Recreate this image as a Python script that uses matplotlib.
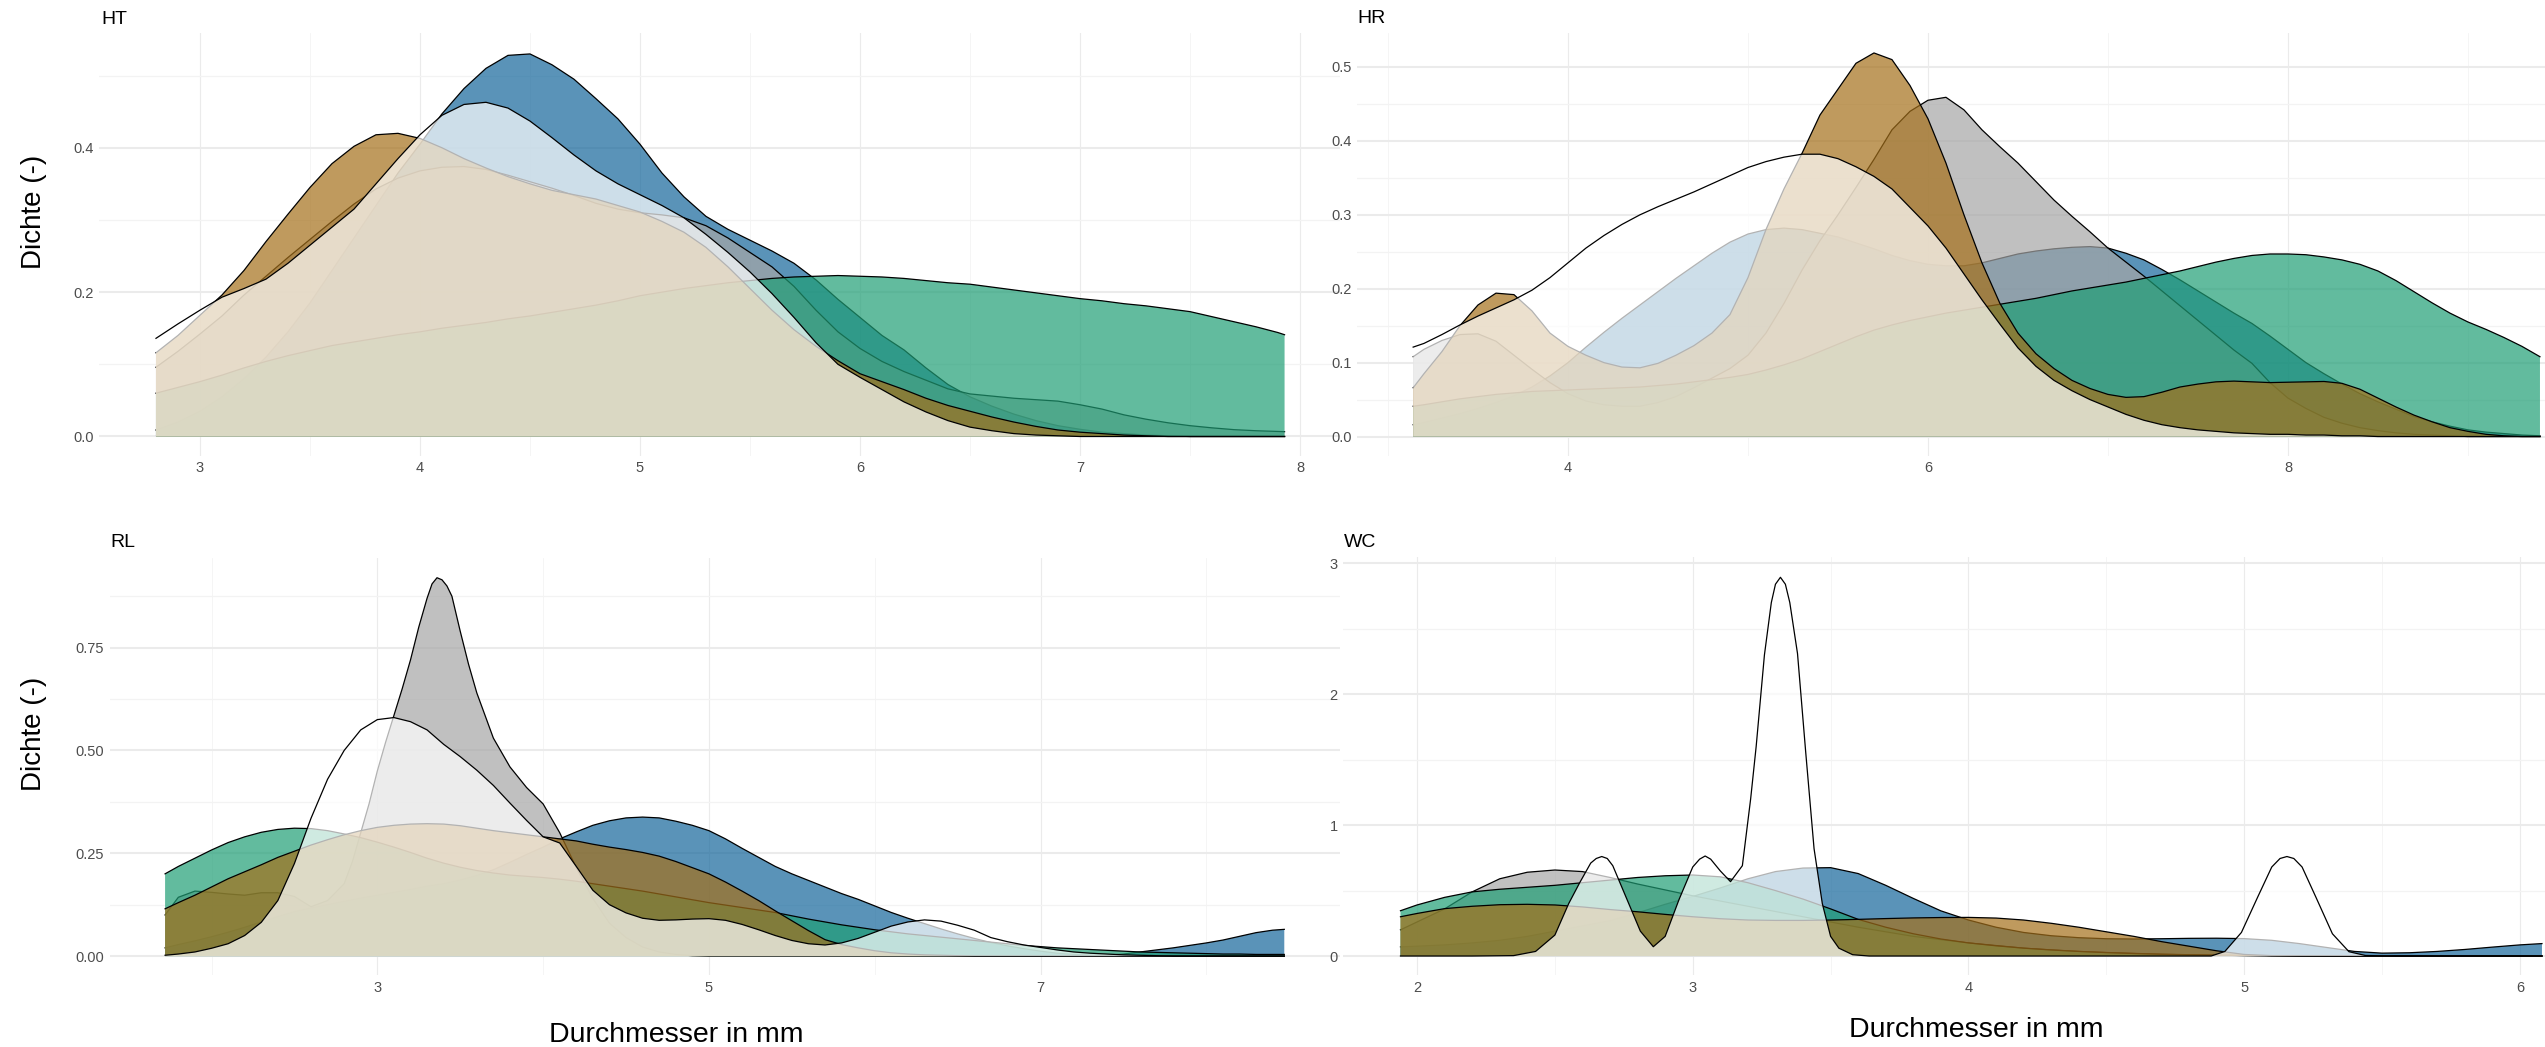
import matplotlib
matplotlib.use("Agg")
import matplotlib.pyplot as plt

plt.rcParams['font.family'] = ['Liberation Sans', 'DejaVu Sans']

# Dichtekurven der Durchmesser, je Standort eine Tafel, fuenf Gruppen je Tafel
# Reihenfolge der Gruppen = Zeichenreihenfolge (spaetere liegen oben)
FARBEN = ['#14669b', '#a6a6a6', '#1f9e75', '#a5701a', '#ffffff']

# ---------------- HT ----------------
HT_X = [2.8, 2.9, 3.0, 3.1, 3.2, 3.3, 3.4, 3.5, 3.6, 3.7, 3.8, 3.9, 4.0, 4.1, 4.2, 4.3, 4.4,
        4.5, 4.6, 4.7, 4.8, 4.9, 5.0, 5.1, 5.2, 5.3, 5.4, 5.5, 5.6, 5.7, 5.8, 5.9, 6.0, 6.1,
        6.2, 6.3, 6.4, 6.5, 6.6, 6.7, 6.8, 6.9, 7.0, 7.1, 7.2, 7.3, 7.4, 7.5, 7.6, 7.7, 7.8,
        7.9, 7.93]
HT_BLAU = [.009, .02, .035, .055, .08, .11, .145, .185, .23, .275, .32, .365, .405, .447, .482,
           .51, .528, .53, .515, .495, .468, .44, .405, .365, .332, .305, .287, .272, .257, .24,
           .217, .19, .165, .14, .12, .095, .072, .055, .042, .031, .022, .015, .01, .006, .004,
           .002, .001, 0, 0, 0, 0, 0, 0]
HT_GRAU = [.096, .118, .142, .167, .196, .222, .248, .273, .298, .322, .343, .358, .368, .373,
           .374, .37, .362, .353, .344, .334, .323, .315, .31, .307, .303, .292, .275, .255, .235,
           .208, .175, .145, .122, .104, .09, .078, .066, .059, .056, .053, .051, .049, .044,
           .038, .03, .024, .019, .015, .012, .0095, .008, .007, .0067]
HT_GRUEN = [.06, .068, .076, .085, .095, .104, .112, .119, .126, .131, .136, .141, .145, .15,
            .154, .158, .163, .167, .172, .177, .182, .188, .195, .2, .205, .209, .213, .216,
            .219, .221, .222, .223, .222, .221, .219, .216, .213, .211, .207, .203, .199, .195,
            .191, .188, .184, .181, .177, .173, .166, .159, .152, .144, .141]
HT_BRAUN = [.116, .14, .168, .196, .23, .27, .308, .345, .378, .402, .418, .42, .413, .4, .385,
            .372, .36, .35, .341, .335, .329, .32, .311, .298, .283, .262, .235, .205, .175,
            .148, .125, .105, .087, .076, .065, .053, .043, .035, .027, .02, .014, .009, .006,
            .004, .002, .001, 0, 0, 0, 0, 0, 0, 0]
HT_WEISS = [.136, .156, .175, .193, .205, .218, .24, .265, .29, .315, .35, .385, .418, .445,
            .46, .463, .455, .437, .414, .39, .368, .35, .335, .32, .303, .28, .255, .228, .198,
            .165, .13, .1, .082, .065, .048, .034, .022, .013, .008, .004, .002, .001, 0, 0, 0,
            0, 0, 0, 0, 0, 0, 0, 0]

# ---------------- HR ----------------
HR_X = [3.14, 3.2, 3.3, 3.4, 3.5, 3.6, 3.7, 3.8, 3.9, 4.0, 4.1, 4.2, 4.3, 4.4, 4.5, 4.6, 4.7,
        4.8, 4.9, 5.0, 5.1, 5.2, 5.3, 5.4, 5.5, 5.6, 5.7, 5.8, 5.9, 6.0, 6.1, 6.2, 6.3, 6.4,
        6.5, 6.6, 6.7, 6.8, 6.9, 7.0, 7.1, 7.2, 7.3, 7.4, 7.5, 7.6, 7.7, 7.8, 7.9, 8.0, 8.1,
        8.2, 8.3, 8.4, 8.5, 8.6, 8.7, 8.8, 8.9, 9.0, 9.1, 9.2, 9.3, 9.4]
HR_BLAU = [.016, .019, .025, .031, .038, .046, .055, .067, .082, .1, .121, .141, .16, .178,
           .196, .214, .231, .248, .263, .274, .28, .282, .28, .275, .27, .262, .254, .245,
           .238, .233, .231, .231, .235, .241, .247, .251, .254, .256, .257, .255, .248, .239,
           .226, .212, .197, .182, .167, .153, .136, .118, .1, .085, .071, .058, .047, .037,
           .027, .02, .014, .009, .006, .004, .002, .001]
HR_GRAU = [.108, .118, .13, .138, .139, .129, .11, .091, .073, .058, .048, .043, .041, .041,
           .046, .054, .066, .079, .092, .11, .14, .18, .225, .265, .3, .337, .375, .415, .44,
           .455, .459, .442, .415, .392, .37, .345, .32, .298, .277, .255, .236, .217, .197,
           .177, .157, .137, .117, .099, .073, .052, .038, .026, .018, .012, .008, .005, .003,
           .002, .001, 0, 0, 0, 0, 0]
HR_GRUEN = [.041, .043, .047, .051, .054, .057, .059, .061, .062, .063, .064, .065, .066, .067,
            .069, .071, .074, .077, .08, .084, .09, .097, .105, .115, .125, .135, .144, .151,
            .157, .162, .167, .171, .175, .179, .183, .187, .192, .197, .201, .205, .209, .214,
            .219, .224, .23, .236, .241, .245, .247, .247, .246, .243, .239, .233, .224, .211,
            .196, .181, .167, .155, .145, .134, .122, .108]
HR_BRAUN = [.066, .085, .115, .15, .178, .194, .192, .17, .14, .122, .11, .1, .094, .093, .099,
            .11, .123, .14, .165, .215, .28, .335, .383, .435, .47, .505, .519, .51, .475, .43,
            .37, .3, .235, .18, .14, .112, .092, .076, .065, .057, .053, .054, .06, .067, .071,
            .074, .075, .074, .073, .0735, .074, .0745, .072, .064, .052, .04, .029, .02, .012,
            .007, .003, .001, 0, 0]
HR_WEISS = [.121, .126, .138, .151, .163, .174, .185, .198, .215, .235, .255, .272, .287, .3,
            .311, .321, .331, .342, .353, .364, .372, .378, .382, .382, .376, .365, .352, .335,
            .31, .285, .255, .22, .185, .152, .12, .095, .076, .062, .05, .04, .03, .022, .016,
            .012, .009, .007, .005, .004, .003, .003, .002, .002, .001, .001, 0, 0, 0, 0, 0, 0,
            0, 0, 0, 0]

# ---------------- RL ----------------
RL_X = [1.72, 1.8, 1.9, 2.0, 2.1, 2.2, 2.3, 2.4, 2.5, 2.6, 2.7, 2.8, 2.9, 3.0, 3.1, 3.2, 3.3,
        3.4, 3.5, 3.6, 3.7, 3.8, 3.9, 4.0, 4.1, 4.2, 4.3, 4.4, 4.5, 4.6, 4.7, 4.8, 4.9, 5.0,
        5.1, 5.2, 5.3, 5.4, 5.5, 5.6, 5.7, 5.8, 5.9, 6.0, 6.1, 6.2, 6.3, 6.4, 6.5, 6.6, 6.7,
        6.8, 6.9, 7.0, 7.1, 7.2, 7.3, 7.4, 7.5, 7.6, 7.7, 7.8, 7.9, 8.0, 8.1, 8.2, 8.3, 8.4,
        8.47]
RL_BLAU = [.02, .028, .037, .047, .058, .07, .083, .096, .108, .117, .125, .133, .141, .148,
           .155, .162, .17, .176, .185, .196, .21, .228, .247, .265, .285, .302, .318, .329,
           .336, .338, .336, .328, .318, .305, .285, .262, .24, .218, .2, .184, .168, .152,
           .138, .122, .106, .092, .079, .066, .054, .043, .033, .025, .018, .012, .007, .004,
           .002, .002, .005, .01, .015, .02, .026, .032, .039, .048, .057, .063, .065]
# schmaler Gipfel, daher eigene, dichtere Stuetzstellen
RL_GRAU_X = [1.72, 1.8, 1.9, 2.0, 2.1, 2.2, 2.3, 2.4, 2.5, 2.6, 2.7, 2.8, 2.85, 2.9, 2.95,
             3.0, 3.05, 3.1, 3.15, 3.2, 3.25, 3.3, 3.33, 3.36, 3.39, 3.42, 3.45, 3.5, 3.55,
             3.6, 3.7, 3.8, 3.9, 4.0, 4.1, 4.2, 4.3, 4.4, 4.5, 4.6, 4.7, 4.8, 4.9, 5.0, 8.47]
RL_GRAU = [.1, .143, .158, .155, .151, .148, .154, .154, .145, .12, .135, .176, .23, .3, .37,
           .45, .52, .585, .65, .72, .8, .87, .905, .92, .915, .9, .875, .79, .71, .64, .53,
           .46, .41, .37, .3, .215, .14, .08, .045, .022, .01, .004, .001, 0, 0]
RL_GRUEN = [.2, .218, .238, .258, .276, .29, .301, .308, .311, .31, .305, .297, .288, .277,
            .265, .252, .238, .226, .216, .208, .202, .197, .194, .191, .187, .182, .176, .17,
            .164, .158, .151, .144, .137, .13, .124, .118, .112, .106, .098, .09, .083, .076,
            .07, .064, .059, .054, .05, .046, .042, .038, .034, .03, .026, .023, .02, .018,
            .016, .014, .012, .01, .009, .008, .007, .006, .005, .005, .004, .004, .004]
RL_BRAUN = [.115, .13, .148, .168, .188, .205, .222, .24, .255, .27, .283, .295, .305, .313,
            .318, .321, .322, .321, .317, .311, .305, .3, .295, .29, .285, .28, .272, .265,
            .259, .252, .243, .23, .215, .2, .18, .158, .135, .11, .086, .062, .04, .028, .02,
            .013, .008, .005, .003, .002, .001, 0, 0, 0, 0, 0, 0, 0, 0, 0, 0, 0, 0, 0, 0, 0,
            0, 0, 0, 0, 0]
RL_WEISS = [.002, .005, .01, .019, .03, .05, .082, .135, .225, .335, .43, .5, .55, .575, .58,
            .57, .55, .515, .485, .452, .415, .372, .33, .29, .275, .218, .16, .125, .105,
            .092, .087, .088, .09, .091, .087, .077, .064, .05, .038, .03, .027, .032, .043,
            .058, .073, .083, .088, .085, .075, .063, .045, .035, .027, .021, .015, .01, .007,
            .005, .003, .002, .001, 0, 0, 0, 0, 0, 0, 0, 0]

# ---------------- WC ----------------
WC_X = [1.94, 2.0, 2.1, 2.2, 2.3, 2.4, 2.5, 2.6, 2.7, 2.8, 2.9, 3.0, 3.1, 3.2, 3.3, 3.4, 3.5,
        3.6, 3.7, 3.8, 3.9, 4.0, 4.1, 4.2, 4.3, 4.4, 4.5, 4.6, 4.7, 4.8, 4.9, 5.0, 5.1, 5.2,
        5.3, 5.4, 5.5, 5.6, 5.7, 5.8, 5.9, 6.0, 6.08]
WC_BLAU = [.07, .075, .085, .1, .12, .15, .19, .23, .27, .33, .395, .455, .52, .59, .645, .672,
           .675, .63, .54, .44, .345, .275, .22, .18, .155, .14, .132, .13, .132, .135, .136,
           .133, .12, .095, .065, .035, .022, .025, .035, .05, .068, .085, .095]
WC_GRAU = [.2, .26, .36, .49, .59, .64, .657, .645, .6, .55, .505, .46, .42, .38, .34, .3, .26,
           .22, .185, .15, .125, .1, .08, .06, .047, .035, .027, .02, .014, .01, .007, .004,
           .002, .001, 0, 0, 0, 0, 0, 0, 0, 0, 0]
WC_GRUEN = [.346, .39, .448, .49, .51, .525, .54, .56, .58, .6, .613, .619, .605, .56, .5, .435,
            .36, .28, .22, .17, .13, .1, .078, .06, .046, .035, .026, .019, .013, .009, .006,
            .004, .002, .001, 0, 0, 0, 0, 0, 0, 0, 0, 0]
WC_BRAUN = [.3, .325, .362, .38, .392, .395, .39, .375, .355, .338, .318, .3, .285, .275, .272,
            .272, .275, .28, .286, .291, .294, .295, .29, .275, .25, .22, .185, .15, .11, .075,
            .04, .012, .003, 0, 0, 0, 0, 0, 0, 0, 0, 0, 0]
# sehr schmale Gipfel, daher eigene Stuetzstellen
WC_WEISS_X = [1.94, 2.2, 2.35, 2.43, 2.5, 2.55, 2.59, 2.63, 2.65, 2.67, 2.69, 2.71, 2.76, 2.81,
              2.857, 2.9, 2.95, 3.0, 3.025, 3.045, 3.065, 3.1, 3.137, 3.18, 3.21, 3.23, 3.26,
              3.285, 3.3, 3.318, 3.336, 3.352, 3.38, 3.41, 3.44, 3.47, 3.5, 3.53, 3.58, 3.64,
              4.88, 4.93, 4.99, 5.05, 5.1, 5.13, 5.155, 5.18, 5.21, 5.26, 5.32, 5.38, 5.44,
              5.55, 6.08]
WC_WEISS = [0, 0, .003, .035, .16, .4, .56, .71, .745, .76, .745, .69, .44, .19, .071, .15,
            .43, .68, .74, .764, .74, .65, .568, .69, 1.2, 1.6, 2.3, 2.7, 2.84, 2.893, 2.84,
            2.7, 2.31, 1.55, .82, .4, .15, .06, .01, 0, 0, .035, .18, .455, .68, .745, .76,
            .745, .68, .45, .17, .033, .004, 0, 0]

W, H = 2545, 1047
fig = plt.figure(figsize=(W / 100, H / 100), dpi=100)
fig.patch.set_facecolor('white')


def panel(px_box, xlim, ylim, xt, xt_minor, yt, yt_minor, ylabels):
    left, top, right, bottom = px_box
    ax = fig.add_axes([left / W, 1 - bottom / H, (right - left) / W, (bottom - top) / H])
    ax.set_xlim(*xlim)
    ax.set_ylim(*ylim)
    ax.set_xticks(xt)
    ax.set_xticks(xt_minor, minor=True)
    ax.set_yticks(yt)
    ax.set_yticklabels(ylabels)
    ax.set_yticks(yt_minor, minor=True)
    ax.yaxis.grid(True, which='major', color='#ebebeb', linewidth=1.5)
    ax.yaxis.grid(True, which='minor', color='#f3f3f3', linewidth=0.9)
    ax.xaxis.grid(True, which='major', color='#ebebeb', linewidth=0.8)
    ax.xaxis.grid(True, which='minor', color='#f4f4f4', linewidth=0.6)
    ax.set_axisbelow(True)
    for s in ax.spines.values():
        s.set_visible(False)
    ax.tick_params(which='both', length=0, labelsize=10.5, labelcolor='#4d4d4d', pad=4)
    return ax


def densities(ax, kurven):
    for i, (x, y) in enumerate(kurven):
        z = 2 + 2 * i
        ax.fill_between(x, 0, y, facecolor=FARBEN[i], alpha=0.7, linewidth=0, zorder=z)
        ax.plot(x, y, color='black', linewidth=0.9, zorder=z + 1)


ax_ht = panel((99, 33, 1340, 455.7), (2.541, 8.182), (-0.0266, 0.559),
              [3, 4, 5, 6, 7, 8], [3.5, 4.5, 5.5, 6.5, 7.5],
              [0, 0.2, 0.4], [0.1, 0.3, 0.5], ['0.0', '0.2', '0.4'])
densities(ax_ht, [(HT_X, HT_BLAU), (HT_X, HT_GRAU), (HT_X, HT_GRUEN),
                  (HT_X, HT_BRAUN), (HT_X, HT_WEISS)])

ax_hr = panel((1357, 33, 2545, 455.9), (2.828, 9.428), (-0.0262, 0.546),
              [4, 6, 8], [3, 5, 7, 9],
              [0, 0.1, 0.2, 0.3, 0.4, 0.5], [0.05, 0.15, 0.25, 0.35, 0.45],
              ['0.0', '0.1', '0.2', '0.3', '0.4', '0.5'])
densities(ax_hr, [(HR_X, HR_BLAU), (HR_X, HR_GRAU), (HR_X, HR_GRUEN),
                  (HR_X, HR_BRAUN), (HR_X, HR_WEISS)])

ax_rl = panel((109.7, 558, 1340, 975), (1.386, 8.806), (-0.046, 0.968),
              [3, 5, 7], [2, 4, 6, 8],
              [0, 0.25, 0.5, 0.75], [0.125, 0.375, 0.625, 0.875],
              ['0.00', '0.25', '0.50', '0.75'])
densities(ax_rl, [(RL_X, RL_BLAU), (RL_GRAU_X, RL_GRAU), (RL_X, RL_GRUEN),
                  (RL_X, RL_BRAUN), (RL_X, RL_WEISS)])

ax_wc = panel((1343.4, 557.4, 2545, 975), (1.733, 6.091), (-0.145, 3.045),
              [2, 3, 4, 5, 6], [2.5, 3.5, 4.5, 5.5],
              [0, 1, 2, 3], [0.5, 1.5, 2.5], ['0', '1', '2', '3'])
densities(ax_wc, [(WC_X, WC_BLAU), (WC_X, WC_GRAU), (WC_X, WC_GRUEN),
                  (WC_X, WC_BRAUN), (WC_WEISS_X, WC_WEISS)])

# Tafeltitel
for label, (px, py) in {'HT': (101, 24), 'HR': (1357, 23),
                        'RL': (110, 547), 'WC': (1344, 547)}.items():
    fig.text(px / W, 1 - py / H, label, fontsize=14, color='black', va='baseline', ha='left')

# Achsenbeschriftungen
for py in (212, 734):
    fig.text(34 / W, 1 - py / H, 'Dichte (-)', rotation=90, fontsize=20,
             ha='center', va='center')
for px, py in ((676, 1042), (1976, 1037)):
    fig.text(px / W, 1 - py / H, 'Durchmesser in mm', fontsize=20.5,
             ha='center', va='baseline')

fig.savefig('out.png', dpi=100)
